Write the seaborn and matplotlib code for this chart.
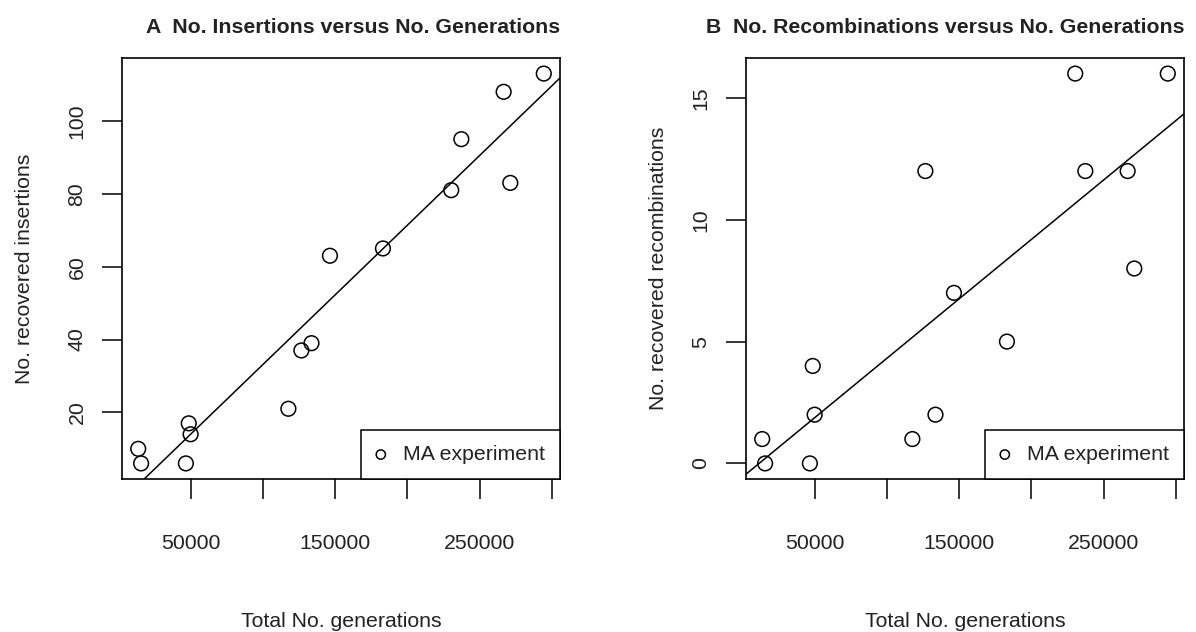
import matplotlib
matplotlib.use("Agg")
import matplotlib.pyplot as plt
import pandas as pd
import seaborn as sns

# values (same 15 MA lines in both)
generations = [13500, 15500, 46500, 48500, 49800, 117500, 126500, 133500,
               146300, 183000, 230300, 237300, 266600, 271200, 294400]
insertions = [10, 6, 6, 17, 14, 21, 37, 39, 63, 65, 81, 95, 108, 83, 113]
recombinations = [1, 0, 0, 4, 2, 1, 12, 2, 7, 5, 16, 12, 12, 8, 16]

x_ticks = [50000, 100000, 150000, 200000, 250000, 300000]
x_tick_labels = ["50000", "", "150000", "", "250000", ""]
ins_ticks = [20, 40, 60, 80, 100]
rec_ticks = [0, 5, 10, 15]

titles = ["A  No. Insertions versus No. Generations",
          "B  No. Recombinations versus No. Generations"]
y_labels = ["No. recovered insertions", "No. recovered recombinations"]
x_label = "Total No. generations"
legend_label = "MA experiment"

df = pd.DataFrame({
    "generations": generations,
    "insertions": insertions,
    "recombinations": recombinations,
})

sns.set_style("white")
plt.rcParams["font.family"] = ["Liberation Sans", "DejaVu Sans"]
plt.rcParams["text.color"] = "#222222"

FS = 15.3
INK = "#222222"


def r_limits(values):
    # R's default 4% axis expansion
    lo, hi = min(values), max(values)
    pad = 0.04 * (hi - lo)
    return lo - pad, hi + pad


fig = plt.figure(figsize=(11.96, 6.32), dpi=100)
ax_a = fig.add_axes([122 / 1196, 153 / 632, 438 / 1196, 421 / 632])
ax_b = fig.add_axes([746 / 1196, 153 / 632, 438 / 1196, 421 / 632])

panels = [
    (ax_a, "insertions", ins_ticks, -0.200),
    (ax_b, "recombinations", rec_ticks, -0.177),
]

for i, (ax, col, yticks, ylab_x) in enumerate(panels):
    sns.scatterplot(data=df, x="generations", y=col, ax=ax, marker="o", s=112,
                    facecolor="none", edgecolor="black", linewidth=1.1,
                    label=legend_label, zorder=3)
    xlim = r_limits(df["generations"])
    ylim = r_limits(df[col])
    ax.set_xlim(xlim)
    ax.set_ylim(ylim)
    sns.regplot(data=df, x="generations", y=col, ax=ax, scatter=False,
                ci=None, truncate=False, color="black",
                line_kws={"linewidth": 1.1})
    ax.set_xlim(xlim)
    ax.set_ylim(ylim)

    ax.set_xticks(x_ticks)
    ax.set_xticklabels(x_tick_labels)
    ax.set_yticks(yticks)
    ax.set_yticklabels([str(t) for t in yticks])
    ax.tick_params(axis="both", bottom=True, left=True, direction="out",
                   length=14.5, width=1.1, color="black", labelsize=FS,
                   labelcolor=INK)
    ax.tick_params(axis="x", pad=25)
    ax.tick_params(axis="y", pad=11, labelrotation=90)
    for lab in ax.get_yticklabels():
        lab.set_va("center")

    for sp in ax.spines.values():
        sp.set_visible(True)
        sp.set_color("black")
        sp.set_linewidth(1.2)

    ax.set_xlabel(x_label, fontsize=FS, color=INK)
    ax.set_ylabel(y_labels[i], fontsize=FS, color=INK)
    ax.xaxis.set_label_coords(0.5, -0.315)
    ax.yaxis.set_label_coords(ylab_x, 0.5)

    ax.set_title(titles[i], loc="right", pad=18, fontsize=FS,
                 fontweight="bold", color=INK)

    leg = ax.legend(loc="lower right", borderaxespad=0, fancybox=False,
                    edgecolor="black", framealpha=1, markerscale=0.63,
                    borderpad=0.7, handlelength=0.5, handletextpad=0.8,
                    fontsize=FS)
    leg.get_frame().set_linewidth(1.1)

plt.savefig("out.png", dpi=100)
plt.close()
